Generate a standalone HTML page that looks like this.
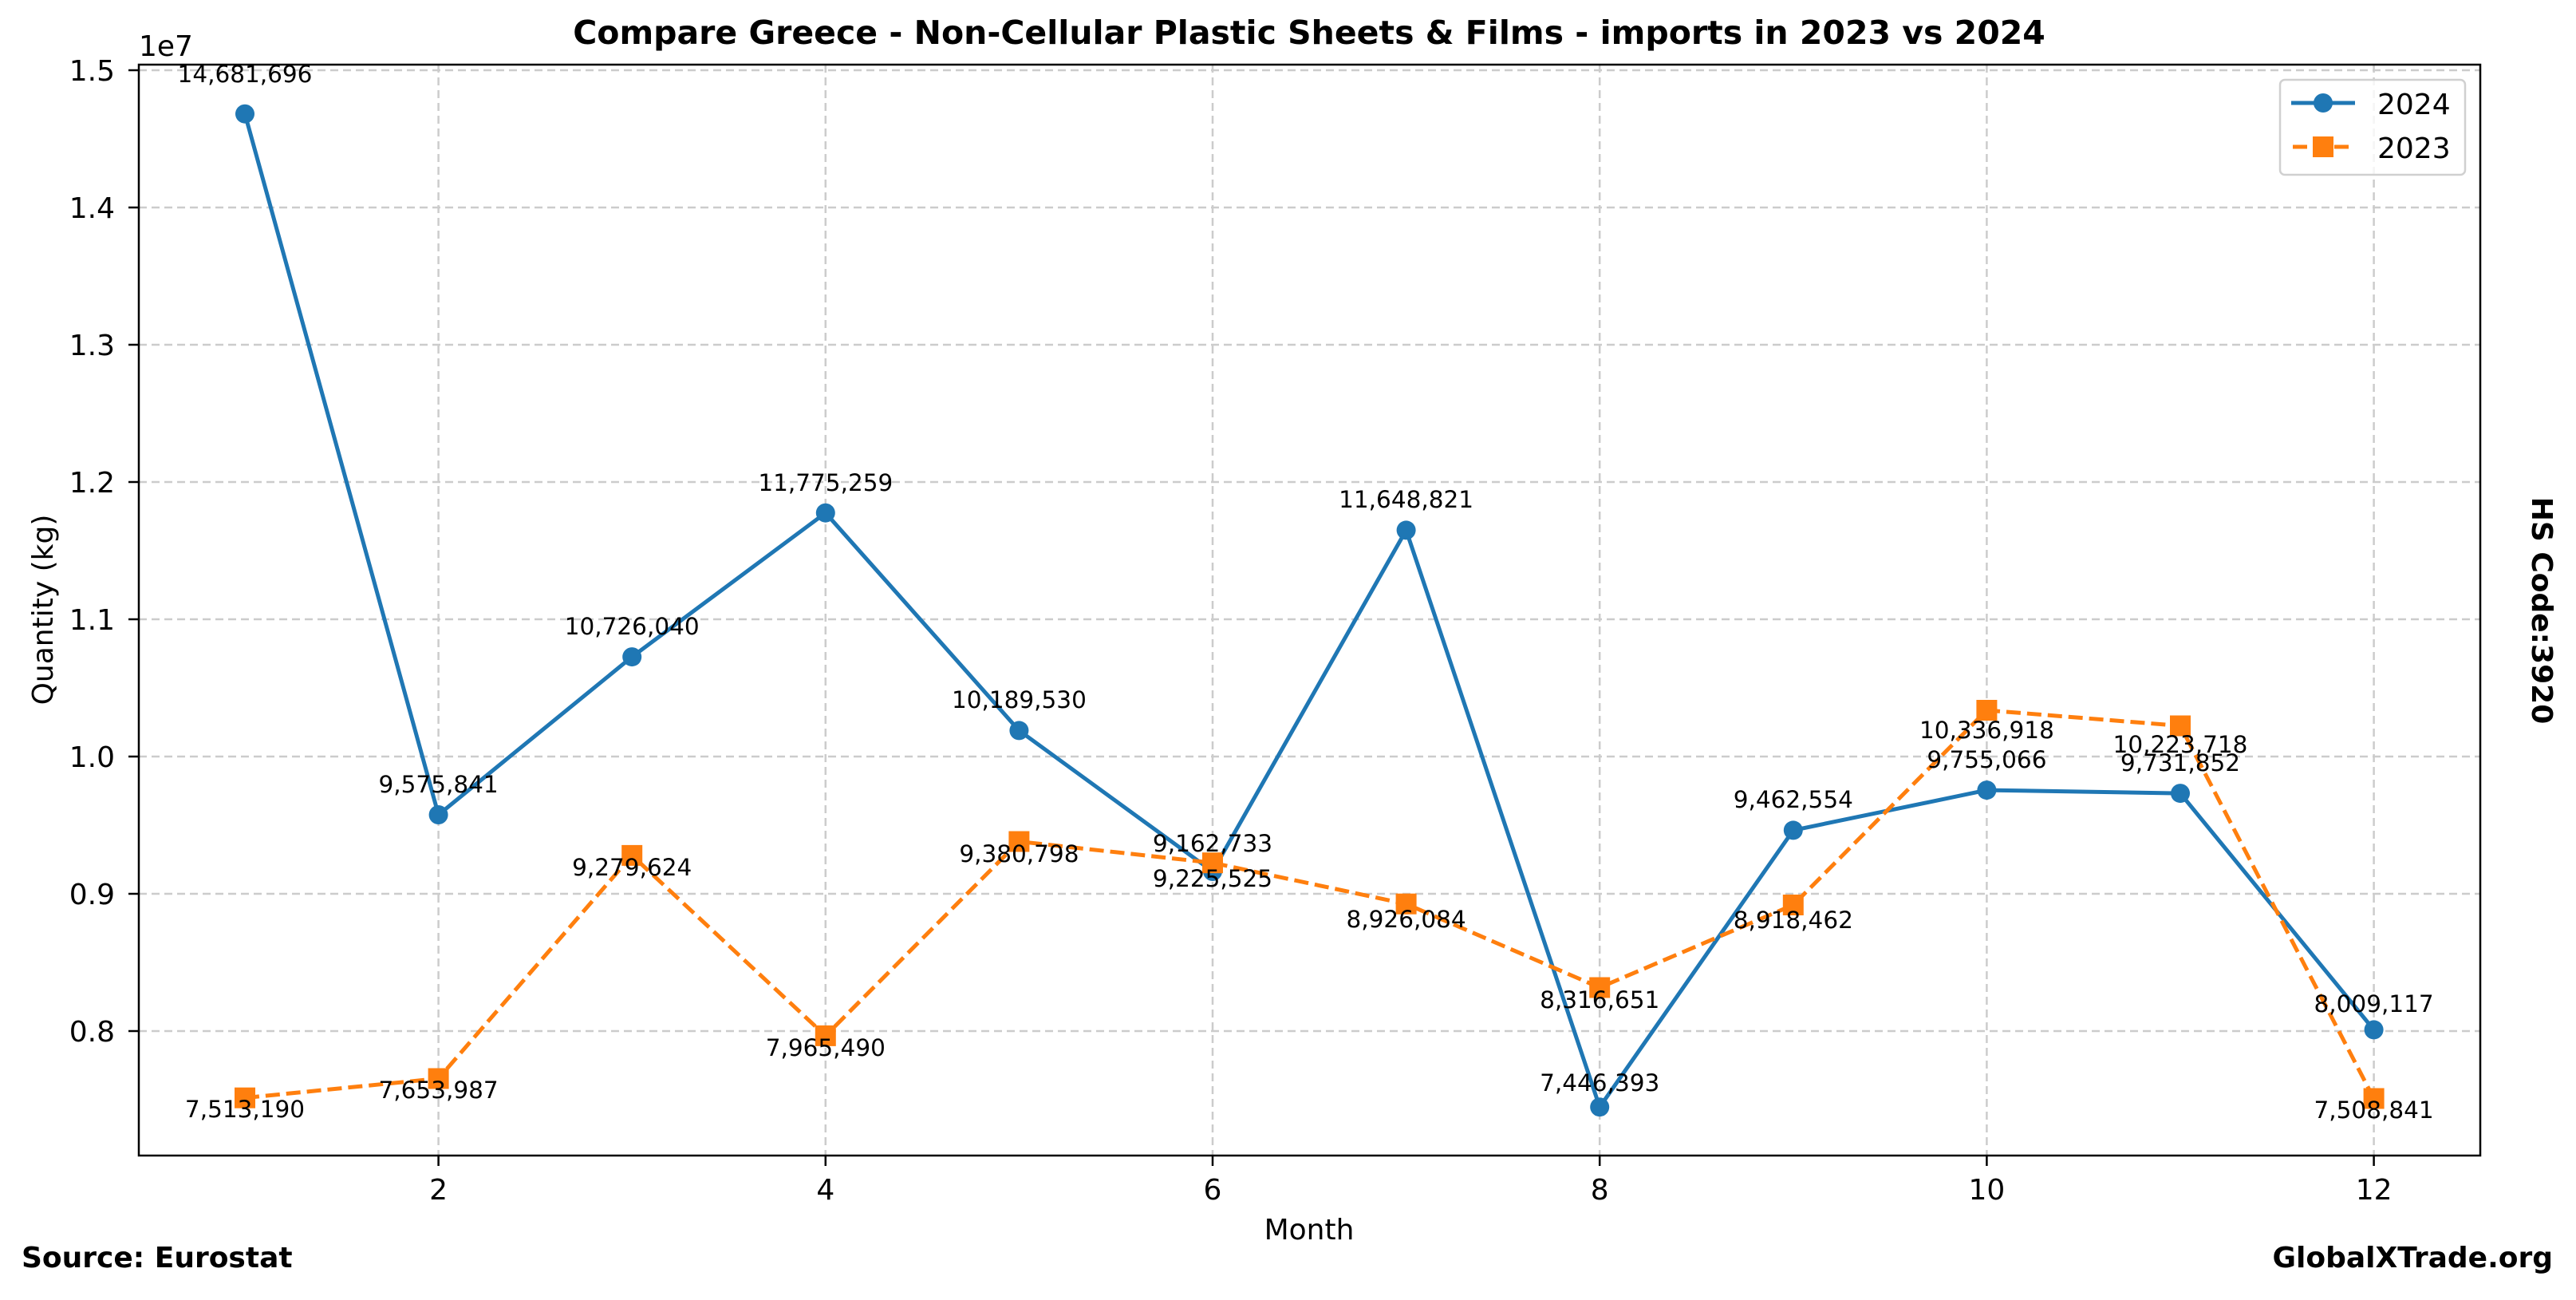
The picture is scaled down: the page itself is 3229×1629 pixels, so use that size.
<!DOCTYPE html>
<html><head><meta charset="utf-8"><style>
html,body{margin:0;padding:0;background:#fff;}
svg text{font-family:"DejaVu Sans","Liberation Sans",sans-serif;}
</style></head><body>
<svg width="3229" height="1624" viewBox="0 0 3229 1624" xmlns="http://www.w3.org/2000/svg">
<rect width="3229" height="1624" fill="#fff"/>
<g stroke="#cccccc" stroke-width="2.5" stroke-dasharray="10,6" fill="none">
<line x1="174" y1="88" x2="3109" y2="88"/>
<line x1="174" y1="260" x2="3109" y2="260"/>
<line x1="174" y1="432" x2="3109" y2="432"/>
<line x1="174" y1="604" x2="3109" y2="604"/>
<line x1="174" y1="776" x2="3109" y2="776"/>
<line x1="174" y1="948" x2="3109" y2="948"/>
<line x1="174" y1="1120" x2="3109" y2="1120"/>
<line x1="174" y1="1292" x2="3109" y2="1292"/>
<line x1="549.6" y1="81" x2="549.6" y2="1448"/>
<line x1="1034.8" y1="81" x2="1034.8" y2="1448"/>
<line x1="1520" y1="81" x2="1520" y2="1448"/>
<line x1="2005.2" y1="81" x2="2005.2" y2="1448"/>
<line x1="2490.4" y1="81" x2="2490.4" y2="1448"/>
<line x1="2975.6" y1="81" x2="2975.6" y2="1448"/>
</g>
<polyline fill="none" stroke="#1f77b4" stroke-width="5" stroke-linejoin="round" points="307,142.7 549.6,1021 792.2,823.1 1034.8,642.7 1277.4,915.4 1520,1092 1762.6,664.4 2005.2,1387.2 2247.8,1040.4 2490.4,990.1 2733,994.1 2975.6,1290.4"/>
<g fill="#1f77b4">
<circle cx="307" cy="142.7" r="12"/><circle cx="549.6" cy="1021" r="12"/><circle cx="792.2" cy="823.1" r="12"/><circle cx="1034.8" cy="642.7" r="12"/><circle cx="1277.4" cy="915.4" r="12"/><circle cx="1520" cy="1092" r="12"/><circle cx="1762.6" cy="664.4" r="12"/><circle cx="2005.2" cy="1387.2" r="12"/><circle cx="2247.8" cy="1040.4" r="12"/><circle cx="2490.4" cy="990.1" r="12"/><circle cx="2733" cy="994.1" r="12"/><circle cx="2975.6" cy="1290.4" r="12"/>
</g>
<polyline fill="none" stroke="#ff7f0e" stroke-width="5" stroke-dasharray="18,8" points="307,1375.7 549.6,1351.5 792.2,1071.9 1034.8,1297.9 1277.4,1054.5 1520,1081.2 1762.6,1132.7 2005.2,1237.5 2247.8,1134 2490.4,890 2733,909.5 2975.6,1376.5"/>
<g fill="#ff7f0e">
<rect x="294" y="1362.7" width="26" height="26"/><rect x="536.6" y="1338.5" width="26" height="26"/><rect x="779.2" y="1058.9" width="26" height="26"/><rect x="1021.8" y="1284.9" width="26" height="26"/><rect x="1264.4" y="1041.5" width="26" height="26"/><rect x="1507" y="1068.2" width="26" height="26"/><rect x="1749.6" y="1119.7" width="26" height="26"/><rect x="1992.2" y="1224.5" width="26" height="26"/><rect x="2234.8" y="1121" width="26" height="26"/><rect x="2477.4" y="877" width="26" height="26"/><rect x="2720" y="896.5" width="26" height="26"/><rect x="2962.6" y="1363.5" width="26" height="26"/>
</g>
<g font-size="29.5" text-anchor="middle" fill="#000">
<text x="307" y="103">14,681,696</text>
<text x="549.6" y="993">9,575,841</text>
<text x="792.2" y="795">10,726,040</text>
<text x="1034.8" y="615">11,775,259</text>
<text x="1277.4" y="887">10,189,530</text>
<text x="1520" y="1067">9,162,733</text>
<text x="1762.6" y="636">11,648,821</text>
<text x="2005.2" y="1367">7,446,393</text>
<text x="2247.8" y="1012">9,462,554</text>
<text x="2490.4" y="962">9,755,066</text>
<text x="2733" y="966">9,731,852</text>
<text x="2975.6" y="1268">8,009,117</text>
<text x="307" y="1400">7,513,190</text>
<text x="549.6" y="1376">7,653,987</text>
<text x="792.2" y="1097">9,279,624</text>
<text x="1034.8" y="1323">7,965,490</text>
<text x="1277.4" y="1080">9,380,798</text>
<text x="1520" y="1111">9,225,525</text>
<text x="1762.6" y="1162">8,926,084</text>
<text x="2005.2" y="1263">8,316,651</text>
<text x="2247.8" y="1163">8,918,462</text>
<text x="2490.4" y="925">10,336,918</text>
<text x="2733" y="943">10,223,718</text>
<text x="2975.6" y="1401">7,508,841</text>
</g>
<rect x="174" y="81" width="2935" height="1367" fill="none" stroke="#000" stroke-width="2.5"/>
<g stroke="#000" stroke-width="2.5">
<line x1="161" y1="88" x2="174" y2="88"/><line x1="161" y1="260" x2="174" y2="260"/><line x1="161" y1="432" x2="174" y2="432"/><line x1="161" y1="604" x2="174" y2="604"/><line x1="161" y1="776" x2="174" y2="776"/><line x1="161" y1="948" x2="174" y2="948"/><line x1="161" y1="1120" x2="174" y2="1120"/><line x1="161" y1="1292" x2="174" y2="1292"/>
<line x1="549.6" y1="1448" x2="549.6" y2="1461"/><line x1="1034.8" y1="1448" x2="1034.8" y2="1461"/><line x1="1520" y1="1448" x2="1520" y2="1461"/><line x1="2005.2" y1="1448" x2="2005.2" y2="1461"/><line x1="2490.4" y1="1448" x2="2490.4" y2="1461"/><line x1="2975.6" y1="1448" x2="2975.6" y2="1461"/>
</g>
<g font-size="36" text-anchor="end" fill="#000">
<text x="144" y="101">1.5</text><text x="144" y="273">1.4</text><text x="144" y="445">1.3</text><text x="144" y="617">1.2</text><text x="144" y="789">1.1</text><text x="144" y="961">1.0</text><text x="144" y="1133">0.9</text><text x="144" y="1305">0.8</text>
</g>
<g font-size="36" text-anchor="middle" fill="#000">
<text x="549.6" y="1503">2</text><text x="1034.8" y="1503">4</text><text x="1520" y="1503">6</text><text x="2005.2" y="1503">8</text><text x="2490.4" y="1503">10</text><text x="2975.6" y="1503">12</text>
<text x="1641" y="1553">Month</text>
</g>
<text x="174" y="70" font-size="36">1e7</text>
<text transform="translate(66,764) rotate(-90)" font-size="36" text-anchor="middle">Quantity (kg)</text>
<text x="1641" y="55" font-size="41" font-weight="bold" text-anchor="middle">Compare Greece - Non-Cellular Plastic Sheets &amp; Films - imports in 2023 vs 2024</text>
<text x="27" y="1588" font-size="36" font-weight="bold">Source: Eurostat</text>
<text x="3200" y="1588" font-size="36" font-weight="bold" text-anchor="end">GlobalXTrade.org</text>
<text transform="translate(3174,765) rotate(90)" font-size="36" font-weight="bold" text-anchor="middle">HS Code:3920</text>
<rect x="2858" y="100" width="232" height="119" rx="6" fill="#fff" fill-opacity="0.8" stroke="#d0d0d0" stroke-width="2.5"/>
<line x1="2872" y1="129" x2="2952" y2="129" stroke="#1f77b4" stroke-width="5"/>
<circle cx="2912" cy="129" r="12" fill="#1f77b4"/>
<line x1="2874" y1="184" x2="2950" y2="184" stroke="#ff7f0e" stroke-width="5" stroke-dasharray="18,8"/>
<rect x="2899" y="171" width="26" height="26" fill="#ff7f0e"/>
<text x="2980" y="143" font-size="36">2024</text>
<text x="2980" y="198" font-size="36">2023</text>
</svg>
</body></html>
